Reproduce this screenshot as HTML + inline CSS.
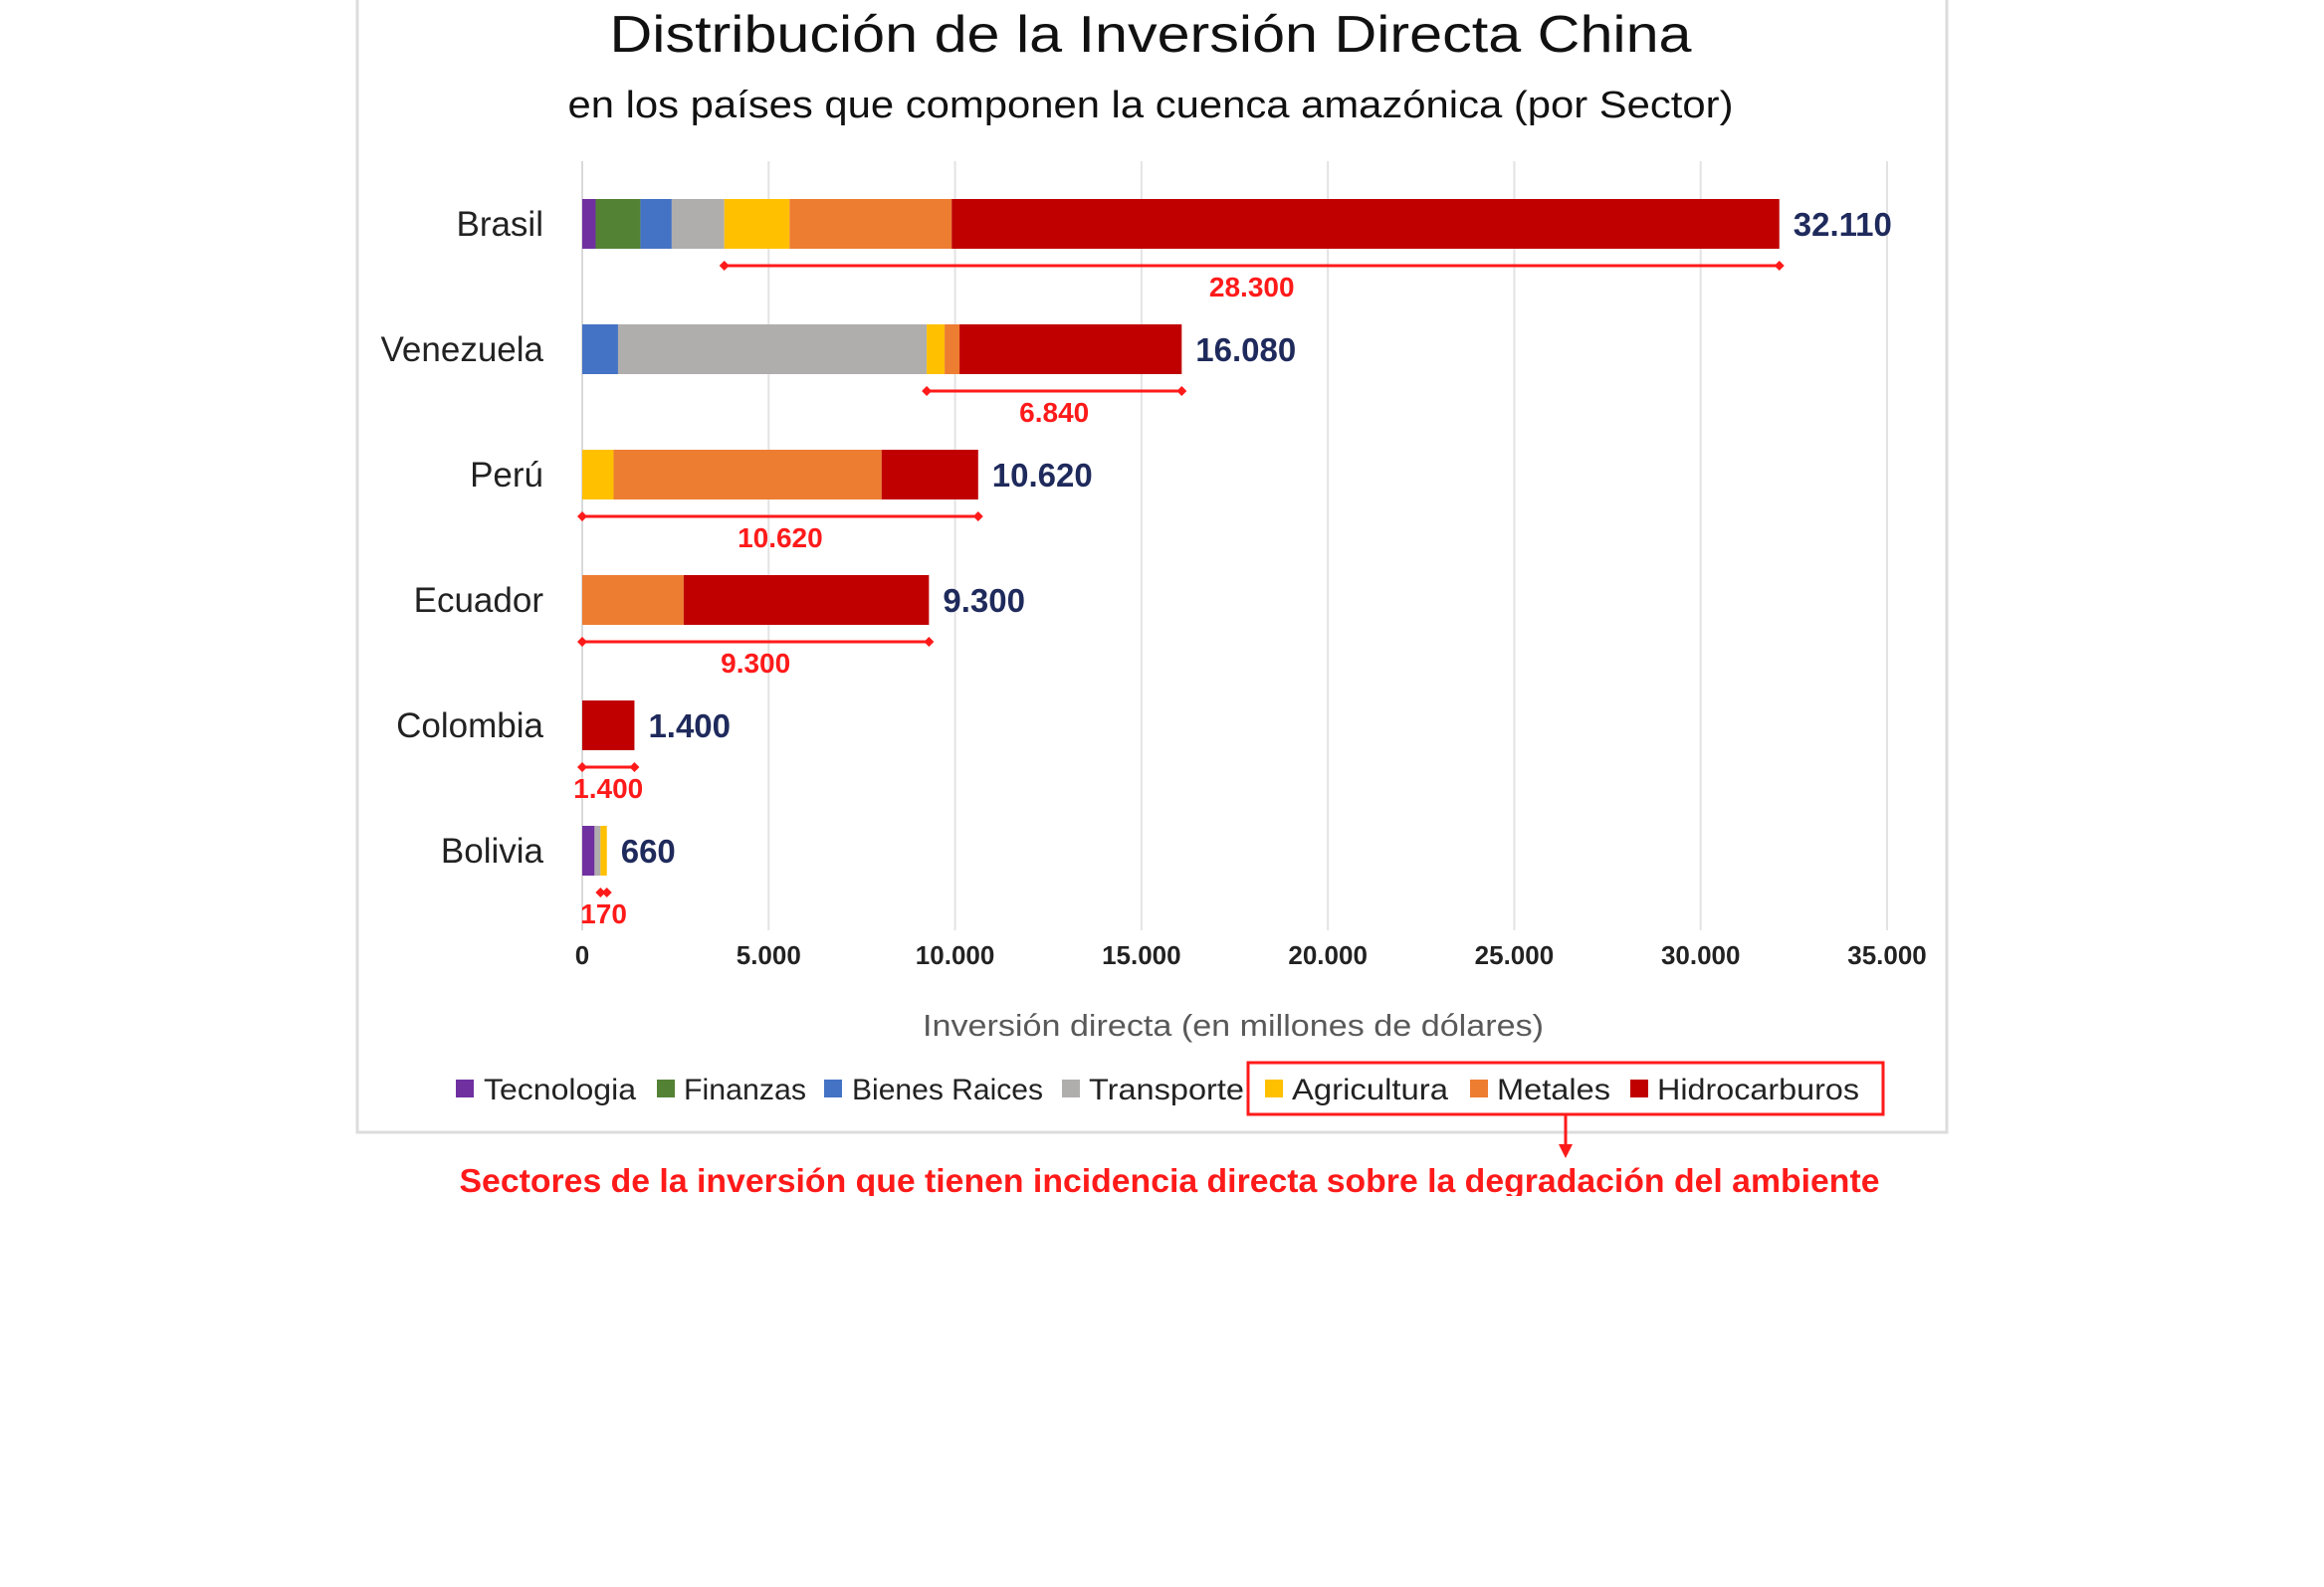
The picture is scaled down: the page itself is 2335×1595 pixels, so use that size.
<!DOCTYPE html>
<html><head><meta charset="utf-8"><style>
html,body{margin:0;padding:0;background:#fff;}
svg{display:block;font-family:"Liberation Sans",sans-serif;}
</style></head><body>
<svg id="chart" width="2335" height="1595" viewBox="0 0 2335 1595" xmlns="http://www.w3.org/2000/svg">
<rect x="0" y="0" width="2335" height="1595" fill="#fff"/>
<rect x="359" y="-4" width="1597" height="1142" fill="#fff" stroke="#dcdcdc" stroke-width="3"/>
<text x="1156" y="52" text-anchor="middle" font-size="52" fill="#111" textLength="1087" lengthAdjust="spacingAndGlyphs">Distribución de la Inversión Directa China</text>
<text x="1156" y="118" text-anchor="middle" font-size="38" fill="#111" textLength="1171" lengthAdjust="spacingAndGlyphs">en los países que componen la cuenca amazónica (por Sector)</text>
<g id="grid"></g>
<g id="bars"></g>
<g id="ann"></g>
<g id="ticks"></g>
<text x="1239" y="1041" text-anchor="middle" font-size="31" fill="#595959" textLength="624" lengthAdjust="spacingAndGlyphs">Inversión directa (en millones de dólares)</text>
<g id="legend"></g>
<rect x="1254" y="1068" width="638" height="52" fill="none" stroke="#ff1a1a" stroke-width="3"/>
<line x1="1573" y1="1120" x2="1573" y2="1152" stroke="#ff1a1a" stroke-width="3"/>
<polygon points="1566,1150 1580,1150 1573,1164" fill="#ff1a1a"/>
<text x="1175" y="1198" text-anchor="middle" font-size="33" font-weight="bold" fill="#ff1a1a" textLength="1427" lengthAdjust="spacingAndGlyphs">Sectores de la inversión que tienen incidencia directa sobre la degradación del ambiente</text>
<rect x="0" y="1202" width="2335" height="20" fill="#fff"/>
</svg>
<script>
const countries = ["Brasil","Venezuela","Perú","Ecuador","Colombia","Bolivia"];
const sectors = ["Tecnologia","Finanzas","Bienes Raices","Transporte","Agricultura","Metales","Hidrocarburos"];
const tecnologia = [360,0,0,0,0,330];
const finanzas = [1200,0,0,0,0,0];
const bienesRaices = [840,960,0,0,0,0];
const transporte = [1410,8280,0,0,0,160];
const agricultura = [1750,480,840,0,0,170];
const metales = [4350,400,7190,2720,0,0];
const hidrocarburos = [22200,5960,2590,6580,1400,0];
const totalLabels = ["32.110","16.080","10.620","9.300","1.400","660"];
const braceLabels = ["28.300","6.840","10.620","9.300","1.400","170"];
const braceStart = [3810,9240,0,0,0,490];
const braceEnd = [32110,16080,10620,9300,1400,660];
const tickValues = [0,5000,10000,15000,20000,25000,30000,35000];
const tickLabels = ["0","5.000","10.000","15.000","20.000","25.000","30.000","35.000"];

const colors = ["#7030a0","#548235","#4472c4","#b0adad","#ffc000","#ed7d31","#c00000"];
const series = [tecnologia,finanzas,bienesRaices,transporte,agricultura,metales,hidrocarburos];
const NS = "http://www.w3.org/2000/svg";
const x = v => 585 + v * (1896 - 585) / 35000;
const yc = i => 225 + i * 126;
function mk(tag, attrs, parent, txt){const e=document.createElementNS(NS,tag);for(const k in attrs)e.setAttribute(k,attrs[k]);if(txt!==undefined)e.textContent=txt;parent.appendChild(e);return e;}
const grid=document.getElementById('grid'), bars=document.getElementById('bars'), ann=document.getElementById('ann'), ticks=document.getElementById('ticks'), legend=document.getElementById('legend');
tickValues.forEach((t,i)=>{
  if(i>0){const g=mk('line',{x1:x(t),x2:x(t),y1:162,y2:935,stroke:'#e3e3e3','stroke-width':2},grid);
  
  }
  const tl=mk('text',{x:x(t),y:969,'text-anchor':'middle','font-size':26,'font-weight':'bold',fill:'#222'},ticks,tickLabels[i]);
  
  
});
const axis=mk('line',{x1:585,x2:585,y1:162,y2:935,stroke:'#d9d9d9','stroke-width':2},grid);


countries.forEach((c,i)=>{
  const cy=yc(i);
  const lab=mk('text',{x:546,y:cy+12,'text-anchor':'end','font-size':35,fill:'#222'},bars,c);
  
  
  let acc=0;
  series.forEach((s,k)=>{
    const v=s[i]; if(!v){return;}
    const r=mk('rect',{x:x(acc),y:cy-25,width:x(acc+v)-x(acc),height:50,fill:colors[k]},bars);
    
    
    acc+=v;
  });
  const tv=mk('text',{x:x(acc)+14,y:cy+12,'font-size':33,'font-weight':'bold',fill:'#1f2a5c'},bars,totalLabels[i]);
  
  
  const by=cy+42, x1=x(braceStart[i]), x2=x(braceEnd[i]);
  const bl=mk('line',{x1:x1,x2:x2,y1:by,y2:by,stroke:'#ff1a1a','stroke-width':3},ann);
  
  
  [x1,x2].forEach(px=>{
    const d=mk('polygon',{points:`${px-5},${by} ${px},${by-5} ${px+5},${by} ${px},${by+5}`,fill:'#ff1a1a'},ann);
    
    
  });
  const bt=mk('text',{x:(x1+x2)/2,y:by+31,'text-anchor':'middle','font-size':28,'font-weight':'bold',fill:'#ff1a1a'},ann,braceLabels[i]);
  
  
});
const lgSq=[458,660,828,1067,1271,1477,1638];
const lgTx=[486,687,856,1094,1298,1504,1665];
const lgW=[153,123,192,156,157,114,203];
sectors.forEach((s,k)=>{
  const sq=mk('rect',{x:lgSq[k],y:1085,width:18,height:18,fill:colors[k]},legend);
  
  
  const t=mk('text',{x:lgTx[k],y:1105,'font-size':30,fill:'#222',textLength:lgW[k],lengthAdjust:'spacingAndGlyphs'},legend,s);
  
  
});
</script>
</body></html>
